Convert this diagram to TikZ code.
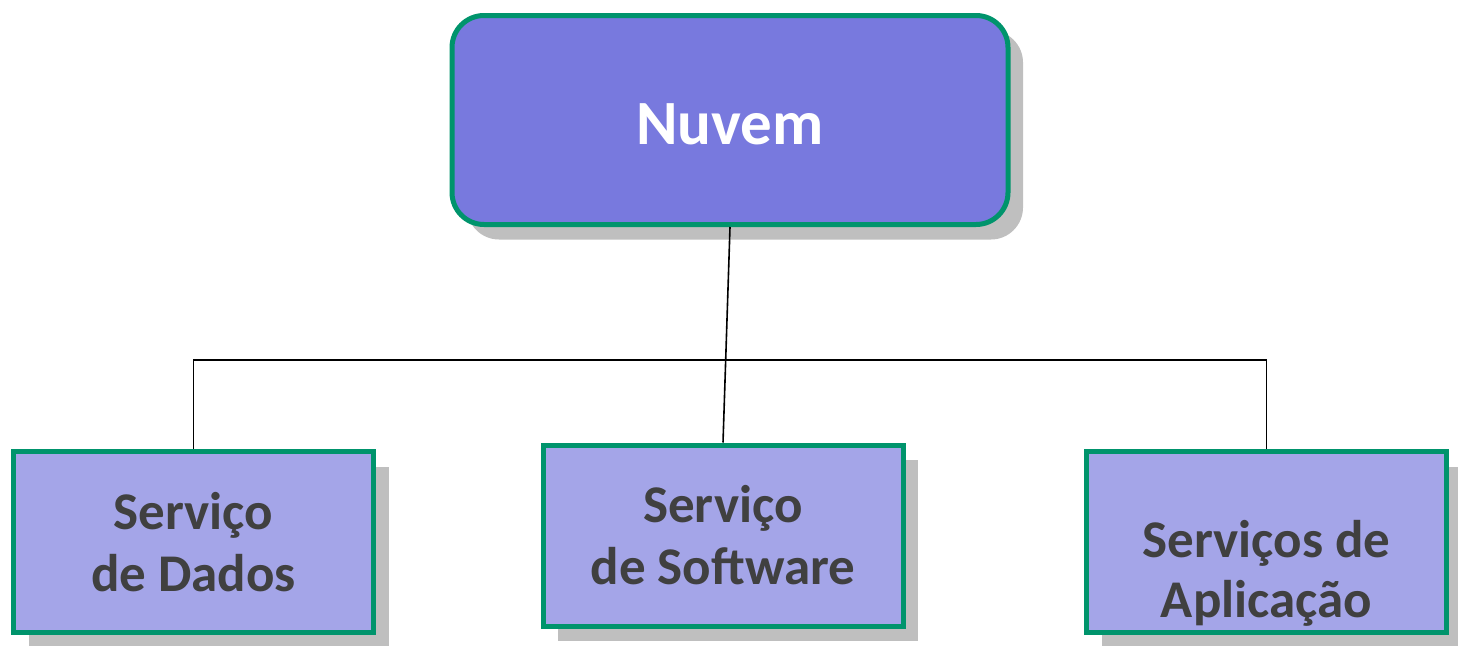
\documentclass[tikz,border=0pt]{standalone}
\usepackage{fontspec}
\setmainfont{Carlito}
\usetikzlibrary{shadows,calc}
\definecolor{topfill}{RGB}{120,121,222}
\definecolor{childfill}{RGB}{164,165,232}
\definecolor{bordergreen}{RGB}{0,148,108}
\definecolor{shadowgray}{RGB}{191,191,191}
\definecolor{textgray}{RGB}{64,64,64}
\tikzset{
  topbox/.style={draw=bordergreen, line width=5pt, fill=topfill, rounded corners=32pt,
    minimum width=556pt, minimum height=209pt, inner sep=0pt, text height=49pt,
    drop shadow={shadow xshift=15pt, shadow yshift=-15pt, fill=shadowgray, opacity=1},
    text=white, font=\fontsize{63}{70}\selectfont\bfseries},
  childbox/.style={draw=bordergreen, line width=5pt, fill=childfill,
    minimum width=360pt, minimum height=181pt, inner sep=0pt,
    drop shadow={shadow xshift=15pt, shadow yshift=-15pt, fill=shadowgray, opacity=1},
    text=textgray, align=center, font=\fontsize{53}{62}\selectfont\bfseries},
  childtext/.style={text=textgray, align=center, inner sep=0pt, font=\fontsize{53}{60}\selectfont\bfseries},
  conn/.style={draw=black, line width=1.6pt}
}
\begin{document}
\begin{tikzpicture}[x=1pt,y=-1pt]
\useasboundingbox (0,0) rectangle (1458,645);
\node[topbox] (top) at (730,120) {Nuvem};
\node[childbox] (L) at (193.5,542) {Serviço\\de Dados};
\node[childbox] (M) at (723,535.5) {Serviço\\de Software};
\node[childbox] (R) at (1266.5,542) {};
\node[childtext] (Rt) at (1266.5,573) {Serviços de\\Aplicação};
\coordinate (bus) at (730,360);
\draw[conn] (top.south) -- (M.north);
\draw[conn] (L.north) |- (bus) -| (R.north);
\end{tikzpicture}
\end{document}
